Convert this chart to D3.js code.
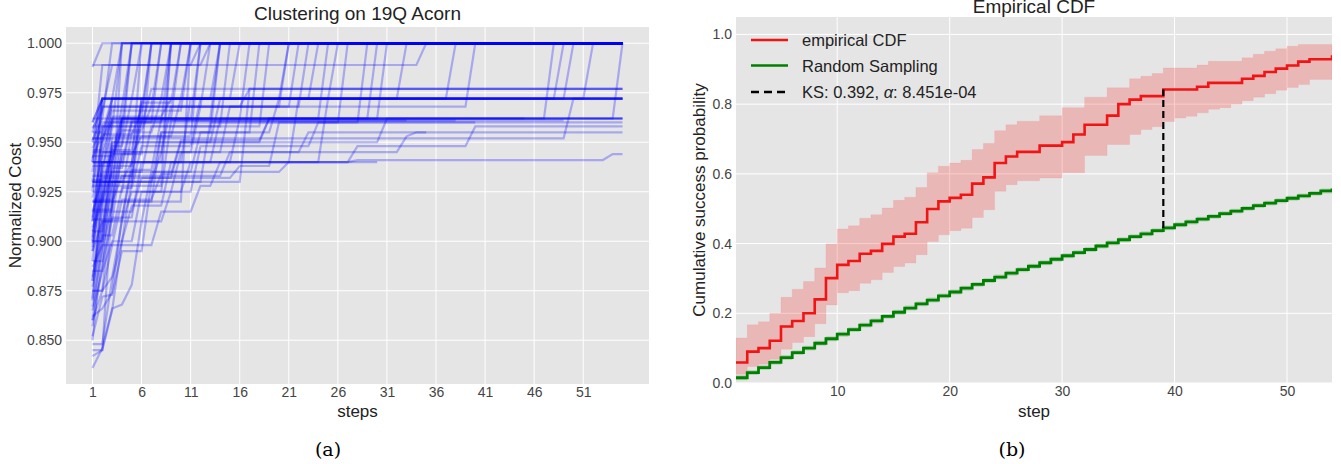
<!DOCTYPE html>
<html>
<head>
<meta charset="utf-8">
<script src="https://cdn.jsdelivr.net/npm/d3@7"></script>
<style>
  body { margin: 0; background: #fff; }
  text { font-family: "Liberation Sans", Arial, sans-serif; }
</style>
</head>
<body>
<svg id="chart"></svg>
<script>
// ---- data (a): best normalized cost per step, each run as [step, value] change points, last pair = end
const runs = [
  [[1,0.988],[2,1.0],[55,1.0]],
  [[1,0.989],[35,1.0],[55,1.0]],
  [[1,0.962],[3,1.0],[55,1.0]],
  [[1,0.95],[2,0.972],[4,1.0],[55,1.0]],
  [[1,0.93],[2,0.968],[5,1.0],[55,1.0]],
  [[1,0.91],[2,0.955],[3,0.972],[6,1.0],[55,1.0]],
  [[1,0.92],[3,0.962],[7,1.0],[55,1.0]],
  [[1,0.89],[2,0.94],[4,0.968],[8,1.0],[55,1.0]],
  [[1,0.905],[3,0.948],[5,0.972],[9,1.0],[55,1.0]],
  [[1,0.87],[2,0.93],[4,0.962],[10,1.0],[55,1.0]],
  [[1,0.94],[2,0.972],[11,1.0],[55,1.0]],
  [[1,0.9],[3,0.94],[6,0.962],[12,1.0],[55,1.0]],
  [[1,0.935],[2,0.968],[13,1.0],[55,1.0]],
  [[1,0.88],[2,0.925],[5,0.955],[8,0.972],[14,1.0],[55,1.0]],
  [[1,0.958],[15,1.0],[55,1.0]],
  [[1,0.915],[3,0.953],[10,0.972],[16,1.0],[55,1.0]],
  [[1,0.945],[4,0.962],[17,1.0],[55,1.0]],
  [[1,0.895],[2,0.935],[7,0.958],[19,1.0],[55,1.0]],
  [[1,0.925],[2,0.972],[21,1.0],[55,1.0]],
  [[1,0.86],[2,0.91],[4,0.945],[9,0.968],[23,1.0],[55,1.0]],
  [[1,0.931],[3,0.972],[24,1.0],[55,1.0]],
  [[1,0.951],[2,0.962],[25,1.0],[55,1.0]],
  [[1,0.911],[5,0.94],[11,0.972],[26,1.0],[55,1.0]],
  [[1,0.943],[3,0.96],[29,1.0],[55,1.0]],
  [[1,0.885],[3,0.93],[6,0.962],[31,1.0],[55,1.0]],
  [[1,0.955],[2,0.972],[33,1.0],[55,1.0]],
  [[1,0.921],[4,0.95],[14,0.972],[38,1.0],[55,1.0]],
  [[1,0.902],[2,0.945],[12,0.968],[40,1.0],[55,1.0]],
  [[1,0.946],[3,0.962],[48,1.0],[55,1.0]],
  [[1,0.933],[6,0.972],[49,1.0],[55,1.0]],
  [[1,0.875],[3,0.92],[8,0.955],[20,0.972],[50,1.0],[55,1.0]],
  [[1,0.96],[2,0.972],[52,1.0],[55,1.0]],
  [[1,0.916],[4,0.962],[55,1.0]],
  [[1,0.871],[2,0.92],[4,1.0],[55,1.0]],
  [[1,0.85],[2,0.9],[3,0.95],[5,1.0],[55,1.0]],
  [[1,0.938],[6,1.0],[55,1.0]],
  [[1,0.899],[2,0.96],[8,1.0],[55,1.0]],
  [[1,0.928],[9,1.0],[55,1.0]],
  [[1,0.845],[3,0.92],[11,1.0],[55,1.0]],
  [[1,0.836],[2,0.846],[3,0.866],[4,0.868],[5,0.878],[6,0.91],[7,0.935],[12,0.955],[18,1.0],[55,1.0]],
  [[1,0.842],[2,0.845],[3,0.865],[4,0.9],[6,0.925],[10,0.945],[15,0.968],[22,1.0],[55,1.0]],
  [[1,0.852],[2,0.872],[3,0.873],[4,0.895],[7,0.93],[13,0.96],[27,1.0],[55,1.0]],
  [[1,0.865],[2,0.885],[3,0.9],[5,0.918],[9,0.94],[16,0.962],[30,1.0],[55,1.0]],
  [[1,0.94],[2,0.989],[12,1.0],[55,1.0]],
  [[1,0.955],[3,0.968],[21,1.0],[55,1.0]],
  [[1,0.957],[2,0.966],[3,0.989],[13,1.0],[55,1.0]],
  [[1,0.947],[2,0.958],[5,1.0],[55,1.0]],
  [[1,0.927],[2,0.951],[3,0.966],[7,1.0],[55,1.0]],
  [[1,0.912],[2,0.937],[3,0.957],[4,1.0],[55,1.0]],
  [[1,0.897],[2,0.928],[3,0.946],[6,0.97],[10,1.0],[55,1.0]],
  [[1,0.882],[2,0.907],[3,0.937],[5,0.96],[9,1.0],[55,1.0]],
  [[1,0.867],[2,0.897],[3,0.918],[4,0.944],[7,1.0],[55,1.0]],
  [[1,0.857],[2,0.888],[3,0.912],[5,0.936],[8,0.962],[14,1.0],[55,1.0]],
  [[1,0.942],[2,0.954],[6,0.966],[11,1.0],[55,1.0]],
  [[1,0.907],[2,0.923],[3,0.944],[6,0.953],[12,1.0],[55,1.0]],
  [[1,0.848],[3,0.881],[4,0.9],[5,0.93],[8,0.955],[14,1.0],[55,1.0]],
  [[1,0.862],[2,0.866],[3,0.874],[4,0.912],[6,0.94],[9,1.0],[55,1.0]],
  [[1,0.94],[4,0.958],[7,0.977],[55,0.977]],
  [[1,0.93],[17,0.977],[55,0.977]],
  [[1,0.922],[2,0.943],[4,0.956],[7,0.968],[17,0.977],[55,0.977]],
  [[1,0.91],[2,0.95],[3,0.972],[55,0.972]],
  [[1,0.93],[6,0.972],[55,0.972]],
  [[1,0.96],[2,0.972],[55,0.972]],
  [[1,0.89],[3,0.94],[22,0.972],[55,0.972]],
  [[1,0.952],[50,0.972],[55,0.972]],
  [[1,0.875],[3,0.882],[4,0.91],[9,0.925],[11,0.94],[25,0.972],[55,0.972]],
  [[1,0.877],[2,0.903],[4,0.927],[6,0.948],[12,0.972],[55,0.972]],
  [[1,0.952],[3,0.963],[9,0.972],[25,0.972]],
  [[1,0.9],[2,0.94],[4,0.962],[55,0.962]],
  [[1,0.94],[14,0.962],[55,0.962]],
  [[1,0.92],[3,0.95],[31,0.962],[55,0.962]],
  [[1,0.887],[2,0.898],[4,0.921],[8,0.934],[10,0.951],[19,0.962],[55,0.962]],
  [[1,0.93],[5,0.94],[28,0.948],[40,0.958],[55,0.958]],
  [[1,0.9],[3,0.93],[8,0.945],[33,0.953],[34,0.955],[55,0.955]],
  [[1,0.92],[3,0.935],[21,0.94],[28,0.941],[54,0.944],[55,0.944]],
  [[1,0.94],[5,0.961],[33,0.961]],
  [[1,0.95],[3,0.961],[38,0.961]],
  [[1,0.925],[9,0.961],[49,0.961]],
  [[1,0.88],[2,0.915],[6,0.932],[16,0.938],[20,0.96],[40,0.96]],
  [[1,0.905],[2,0.92],[4,0.933],[15,0.945],[23,0.955],[35,0.955]],
  [[1,0.915],[2,0.932],[10,0.95],[19,0.962],[45,0.962]],
  [[1,0.86],[2,0.875],[3,0.898],[8,0.915],[12,0.928],[14,0.94],[30,0.94]],
  [[1,0.895],[2,0.91],[5,0.925],[12,0.948],[24,0.96],[55,0.96]]
];
const stepTicksA = [1, 6, 11, 16, 21, 26, 31, 36, 41, 46, 51];
const costTicks = [0.850, 0.875, 0.900, 0.925, 0.950, 0.975, 1.000];

// ---- data (b): empirical CDF vs random sampling, steps 1..54
const steps = d3.range(1, 55);
const ecdf = [0.059,0.090,0.100,0.121,0.162,0.178,0.200,0.240,0.301,0.339,
  0.350,0.371,0.379,0.399,0.420,0.428,0.461,0.499,0.521,0.531,
  0.540,0.572,0.590,0.631,0.650,0.663,0.663,0.681,0.681,0.691,
  0.713,0.741,0.741,0.767,0.800,0.813,0.823,0.823,0.842,0.842,
  0.842,0.850,0.861,0.861,0.861,0.873,0.881,0.892,0.902,0.911,
  0.922,0.929,0.929,0.940];
const ecdfLow = [0.025,0.047,0.054,0.068,0.097,0.116,0.133,0.170,0.224,0.259,
  0.265,0.286,0.296,0.317,0.334,0.344,0.368,0.406,0.425,0.437,
  0.444,0.475,0.497,0.550,0.569,0.580,0.580,0.588,0.588,0.603,
  0.603,0.653,0.653,0.684,0.684,0.713,0.727,0.735,0.750,0.760,
  0.765,0.775,0.785,0.790,0.800,0.810,0.820,0.830,0.840,0.848,
  0.856,0.871,0.871,0.880];
const ecdfHigh = [0.129,0.167,0.176,0.200,0.246,0.269,0.291,0.330,0.399,0.442,
  0.451,0.473,0.483,0.502,0.524,0.533,0.561,0.603,0.622,0.631,
  0.639,0.670,0.687,0.724,0.741,0.751,0.751,0.767,0.767,0.790,
  0.790,0.820,0.820,0.847,0.847,0.873,0.880,0.888,0.904,0.904,
  0.904,0.912,0.923,0.923,0.923,0.933,0.943,0.952,0.959,0.966,
  0.971,0.971,0.971,0.971];
const randomCdf = [0.015,0.030,0.044,0.059,0.073,0.087,0.100,0.114,0.127,0.140,
  0.153,0.166,0.178,0.191,0.203,0.215,0.227,0.238,0.250,0.261,
  0.272,0.283,0.294,0.304,0.315,0.325,0.335,0.345,0.355,0.365,
  0.374,0.383,0.393,0.402,0.411,0.420,0.428,0.437,0.445,0.454,
  0.462,0.470,0.478,0.486,0.493,0.501,0.509,0.516,0.523,0.530,
  0.537,0.544,0.551,0.558];
const ksStep = 39;
const stepTicksB = [10, 20, 30, 40, 50];
const probTicks = [0.0, 0.2, 0.4, 0.6, 0.8, 1.0];
const legendLabels = ["empirical CDF", "Random Sampling"];

document.addEventListener("DOMContentLoaded", function() {
  const width = 1341;
  const height = 464;
  const BG = "#e5e5e5";

  const svg = d3.select("#chart").attr("width", width).attr("height", height);

  // hold the last value between change points
  function expandRun(bp) {
    const pts = [];
    let j = 0;
    const last = bp[bp.length - 1][0];
    for (let s = bp[0][0]; s <= last; s++) {
      while (j + 1 < bp.length && bp[j + 1][0] <= s) j++;
      pts.push([s, bp[j][1]]);
    }
    return pts;
  }

  function frame(g, x, y, xt, yt, yfmt, id) {
    const [x0, x1] = x.range();
    const [y0, y1] = y.range();
    g.append("rect").attr("x", x0).attr("y", y1).attr("width", x1 - x0).attr("height", y0 - y1).attr("fill", BG);
    g.append("clipPath").attr("id", id).append("rect")
      .attr("x", x0).attr("y", y1).attr("width", x1 - x0).attr("height", y0 - y1);
    g.append("g").selectAll("line").data(xt).join("line")
      .attr("x1", d => x(d)).attr("x2", d => x(d)).attr("y1", y0).attr("y2", y1)
      .attr("stroke", "#fff").attr("stroke-width", 1);
    g.append("g").selectAll("line").data(yt).join("line")
      .attr("y1", d => y(d)).attr("y2", d => y(d)).attr("x1", x0).attr("x2", x1)
      .attr("stroke", "#fff").attr("stroke-width", 1);

    const xa = g.append("g").attr("transform", `translate(0,${y0})`)
      .call(d3.axisBottom(x).tickValues(xt).tickSize(0).tickPadding(3));
    const ya = g.append("g").attr("transform", `translate(${x0},0)`)
      .call(d3.axisLeft(y).tickValues(yt).tickFormat(yfmt).tickSize(0).tickPadding(4));
    [xa, ya].forEach(a => {
      a.select(".domain").remove();
      a.selectAll("text").attr("fill", "#444").style("font-size", "14px")
        .style("font-family", '"Liberation Sans", Arial, sans-serif');
    });
  }

  // ---------- panel (a)
  const xA = d3.scaleLinear().domain([-1.7, 57.7]).range([66, 649]);
  const yA = d3.scaleLinear().domain([0.8279, 1.0082]).range([384, 27]);
  const gA = svg.append("g");
  frame(gA, xA, yA, stepTicksA, costTicks, d3.format(".3f"), "clipA");

  const lineA = d3.line().x(d => xA(d[0])).y(d => yA(d[1]));
  gA.append("g").attr("clip-path", "url(#clipA)")
    .selectAll("path").data(runs.map(expandRun)).join("path")
    .attr("d", lineA)
    .attr("fill", "none")
    .attr("stroke", "#0000ff")
    .attr("stroke-opacity", 0.27)
    .attr("stroke-width", 2.2);

  gA.append("text").attr("x", 357.5).attr("y", 20).attr("text-anchor", "middle")
    .attr("fill", "#222").style("font-size", "19px").text("Clustering on 19Q Acorn");
  gA.append("text").attr("x", 357.5).attr("y", 417).attr("text-anchor", "middle")
    .attr("fill", "#222").style("font-size", "17px").text("steps");
  gA.append("text").attr("transform", "translate(21,205.5) rotate(-90)").attr("text-anchor", "middle")
    .attr("fill", "#222").style("font-size", "17px").text("Normalized Cost");

  // ---------- panel (b)
  const xB = d3.scaleLinear().domain([1, 54]).range([736, 1332]);
  const yB = d3.scaleLinear().domain([0, 1.05]).range([383, 17]);
  const gB = svg.append("g");
  frame(gB, xB, yB, stepTicksB, probTicks, d3.format(".1f"), "clipB");

  const plot = gB.append("g").attr("clip-path", "url(#clipB)");
  const band = d3.area().curve(d3.curveStepAfter)
    .x((d, i) => xB(steps[i]));
  plot.append("path").datum(steps)
    .attr("d", band.y0((d, i) => yB(ecdfLow[i])).y1((d, i) => yB(ecdfHigh[i])))
    .attr("fill", "#ff0000").attr("fill-opacity", 0.2)
    .attr("stroke", "#ff0000").attr("stroke-opacity", 0.06);
  plot.append("path").datum(steps)
    .attr("d", band.y0((d, i) => yB(randomCdf[i] - 0.007)).y1((d, i) => yB(randomCdf[i] + 0.007)))
    .attr("fill", "#008000").attr("fill-opacity", 0.2);

  const stepLine = d3.line().curve(d3.curveStepAfter).x((d, i) => xB(steps[i]));
  plot.append("path").datum(steps)
    .attr("d", stepLine.y((d, i) => yB(randomCdf[i])))
    .attr("fill", "none").attr("stroke", "#008000").attr("stroke-width", 2.8);
  plot.append("path").datum(steps)
    .attr("d", stepLine.y((d, i) => yB(ecdf[i])))
    .attr("fill", "none").attr("stroke", "#f01414").attr("stroke-width", 2.6);

  const ki = steps.indexOf(ksStep);
  plot.append("line")
    .attr("x1", xB(ksStep)).attr("x2", xB(ksStep))
    .attr("y1", yB(randomCdf[ki])).attr("y2", yB(ecdf[ki]))
    .attr("stroke", "#000").attr("stroke-width", 2.2).attr("stroke-dasharray", "7,4");

  // legend
  const leg = gB.append("g");
  const legRows = [
    { color: "#f01414", dash: null, y: 40 },
    { color: "#008000", dash: null, y: 65.5 },
    { color: "#000", dash: "8,5", y: 92 }
  ];
  legRows.forEach(r => {
    leg.append("line").attr("x1", 751).attr("x2", 788).attr("y1", r.y).attr("y2", r.y)
      .attr("stroke", r.color).attr("stroke-width", 2.6).attr("stroke-dasharray", r.dash);
  });
  leg.append("text").attr("x", 802).attr("y", 46).attr("fill", "#222").style("font-size", "16.5px").text(legendLabels[0]);
  leg.append("text").attr("x", 802).attr("y", 71.5).attr("fill", "#222").style("font-size", "16.5px").text(legendLabels[1]);
  const ks = leg.append("text").attr("x", 802).attr("y", 98).attr("fill", "#222").style("font-size", "16.5px");
  ks.append("tspan").text("KS: 0.392, ");
  ks.append("tspan").style("font-style", "italic").text("α");
  ks.append("tspan").text(": 8.451e-04");

  gB.append("text").attr("x", 1034).attr("y", 13).attr("text-anchor", "middle")
    .attr("fill", "#222").style("font-size", "19px").text("Empirical CDF");
  gB.append("text").attr("x", 1034).attr("y", 417).attr("text-anchor", "middle")
    .attr("fill", "#222").style("font-size", "17px").text("step");
  gB.append("text").attr("transform", "translate(705,200) rotate(-90)").attr("text-anchor", "middle")
    .attr("fill", "#222").style("font-size", "17px").text("Cumulative success probability");

  // captions
  svg.append("text").attr("x", 328).attr("y", 456).attr("text-anchor", "middle")
    .style("font-family", '"DejaVu Serif", "Liberation Serif", serif').style("font-size", "19px").text("(a)");
  svg.append("text").attr("x", 1012).attr("y", 456).attr("text-anchor", "middle")
    .style("font-family", '"DejaVu Serif", "Liberation Serif", serif').style("font-size", "19px").text("(b)");
});
</script>
</body>
</html>
